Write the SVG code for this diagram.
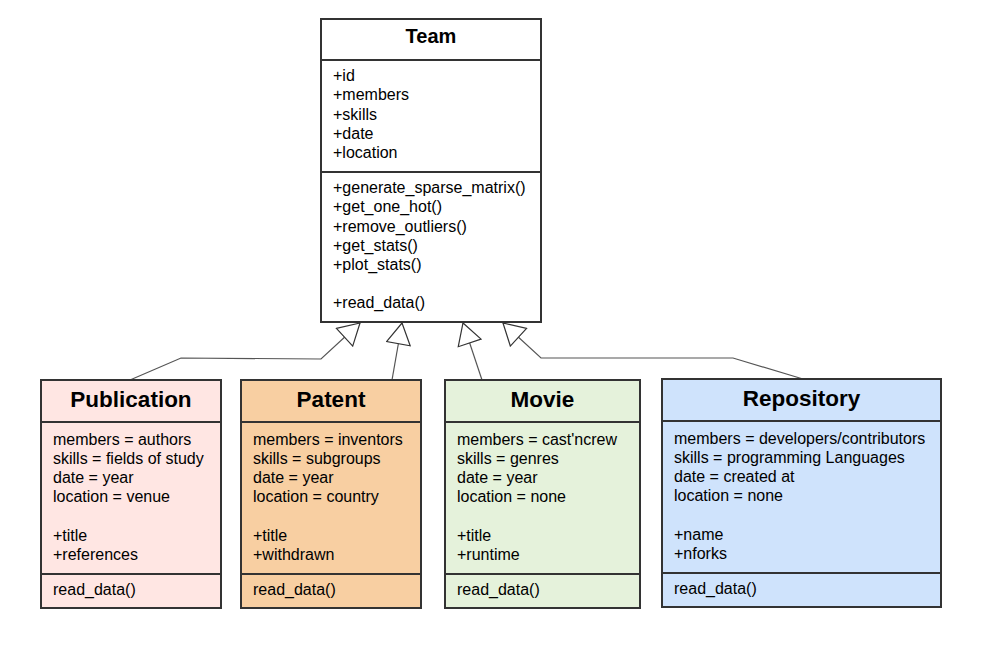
<svg xmlns="http://www.w3.org/2000/svg" width="983" height="650" viewBox="0 0 983 650">
<style>
.box{stroke:#333;stroke-width:2}
.div{stroke:#333;stroke-width:2;fill:none}
.t{font-family:"Liberation Sans",Arial,sans-serif;font-size:16px;fill:#000}
.h{font-family:"Liberation Sans",Arial,sans-serif;font-size:20px;font-weight:bold;fill:#000;text-anchor:middle}
.h2{font-family:"Liberation Sans",Arial,sans-serif;font-size:22.5px;font-weight:bold;fill:#000;text-anchor:middle}
.c{fill:none;stroke:#555;stroke-width:1.2}
</style>
<defs>
<marker id="inh" markerUnits="userSpaceOnUse" markerWidth="24" markerHeight="26" viewBox="-1 -1 24 26" refX="21" refY="12" orient="auto">
<path d="M0,0 L21,12 L0,24 Z" fill="#fff" stroke="#333" stroke-width="1.2"/>
</marker>
</defs>
<rect width="983" height="650" fill="#fff"/>
<g id="connectors">
<path class="c" d="M130,380 L181,358 L321,359 L360,323" marker-end="url(#inh)"/>
<path class="c" d="M392,380 L402,323" marker-end="url(#inh)"/>
<path class="c" d="M482,380 L463,323" marker-end="url(#inh)"/>
<path class="c" d="M803,379 L733,358 L541,358 L503,323" marker-end="url(#inh)"/>
</g>
<g id="team">
<rect class="box" x="321" y="19" width="220" height="303" fill="#fff"/>
<path class="div" d="M321,60 H541 M321,172 H541"/>
<text class="h" x="431" y="43">Team</text>
<text class="t" x="333" y="81">+id</text>
<text class="t" x="333" y="100">+members</text>
<text class="t" x="333" y="120">+skills</text>
<text class="t" x="333" y="139">+date</text>
<text class="t" x="333" y="158">+location</text>
<text class="t" x="333" y="193">+generate_sparse_matrix()</text>
<text class="t" x="333" y="212">+get_one_hot()</text>
<text class="t" x="333" y="232">+remove_outliers()</text>
<text class="t" x="333" y="251">+get_stats()</text>
<text class="t" x="333" y="270">+plot_stats()</text>
<text class="t" x="333" y="308">+read_data()</text>
</g>
<g id="publication">
<rect class="box" x="41" y="380" width="180" height="228" fill="#FFE6E3"/>
<path class="div" d="M41,422 H221 M41,574 H221"/>
<text class="h2" x="131" y="407">Publication</text>
<text class="t" x="53" y="445">members = authors</text>
<text class="t" x="53" y="464">skills = fields of study</text>
<text class="t" x="53" y="483">date = year</text>
<text class="t" x="53" y="502">location = venue</text>
<text class="t" x="53" y="541">+title</text>
<text class="t" x="53" y="560">+references</text>
<text class="t" x="53" y="595">read_data()</text>
</g>
<g id="patent">
<rect class="box" x="241" y="380" width="180" height="228" fill="#F8CFA2"/>
<path class="div" d="M241,422 H421 M241,574 H421"/>
<text class="h2" x="331" y="407">Patent</text>
<text class="t" x="253" y="445">members = inventors</text>
<text class="t" x="253" y="464">skills = subgroups</text>
<text class="t" x="253" y="483">date = year</text>
<text class="t" x="253" y="502">location = country</text>
<text class="t" x="253" y="541">+title</text>
<text class="t" x="253" y="560">+withdrawn</text>
<text class="t" x="253" y="595">read_data()</text>
</g>
<g id="movie">
<rect class="box" x="445" y="380" width="195" height="228" fill="#E5F2DB"/>
<path class="div" d="M445,422 H640 M445,574 H640"/>
<text class="h2" x="542.5" y="407">Movie</text>
<text class="t" x="457" y="445">members = cast'ncrew</text>
<text class="t" x="457" y="464">skills = genres</text>
<text class="t" x="457" y="483">date = year</text>
<text class="t" x="457" y="502">location = none</text>
<text class="t" x="457" y="541">+title</text>
<text class="t" x="457" y="560">+runtime</text>
<text class="t" x="457" y="595">read_data()</text>
</g>
<g id="repository">
<rect class="box" x="662" y="379" width="279" height="228" fill="#CFE3FC"/>
<path class="div" d="M662,421 H941 M662,573 H941"/>
<text class="h2" x="801.5" y="406">Repository</text>
<text class="t" x="674" y="444">members = developers/contributors</text>
<text class="t" x="674" y="463">skills = programming Languages</text>
<text class="t" x="674" y="482">date = created at</text>
<text class="t" x="674" y="501">location = none</text>
<text class="t" x="674" y="540">+name</text>
<text class="t" x="674" y="559">+nforks</text>
<text class="t" x="674" y="594">read_data()</text>
</g>
</svg>
